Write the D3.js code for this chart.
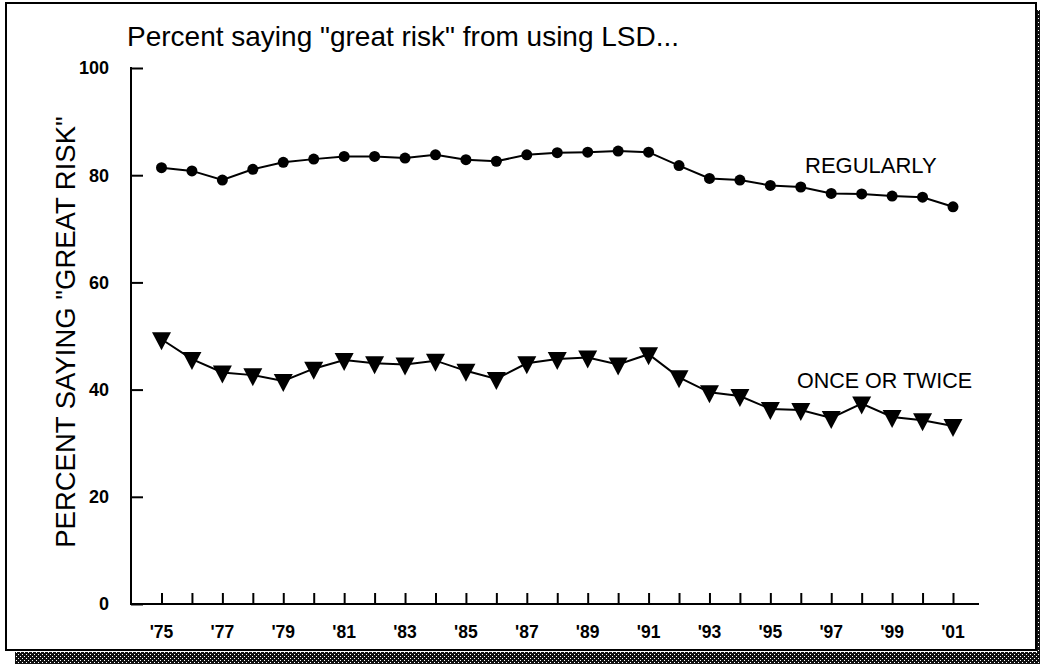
<!DOCTYPE html>
<html>
<head>
<meta charset="utf-8">
<script src="https://cdn.jsdelivr.net/npm/d3@7"></script>
<style>
  html, body { margin: 0; padding: 0; background: #fff; }
  svg { display: block; font-family: "Liberation Sans", Arial, Helvetica, sans-serif; }
</style>
</head>
<body>
<svg id="chart" width="1040" height="664"></svg>
<script>
const years = d3.range(1975, 2002);
const tickLabels = ["'75","'77","'79","'81","'83","'85","'87","'89","'91","'93","'95","'97","'99","'01"];
const regularly = [81.4, 80.8, 79.1, 81.1, 82.4, 83.0, 83.5, 83.5, 83.2, 83.8, 82.9, 82.6, 83.8, 84.2, 84.3, 84.5, 84.3, 81.8, 79.4, 79.1, 78.1, 77.8, 76.6, 76.5, 76.1, 75.9, 74.1];
const onceOrTwice = [49.4, 45.7, 43.2, 42.7, 41.6, 43.9, 45.5, 44.9, 44.7, 45.4, 43.5, 42.0, 44.9, 45.7, 46.0, 44.7, 46.6, 42.3, 39.5, 38.8, 36.4, 36.2, 34.7, 37.4, 34.9, 34.3, 33.2];
const yTicks = [0, 20, 40, 60, 80, 100];
const title = 'Percent saying "great risk" from using LSD...';
const yTitle = 'PERCENT SAYING "GREAT RISK"';
const seriesLabels = ["REGULARLY", "ONCE OR TWICE"];

const svg = d3.select("#chart");

const defs = svg.append("defs");
const pat = defs.append("pattern").attr("id", "dots").attr("patternUnits", "userSpaceOnUse")
  .attr("width", 4).attr("height", 4);
pat.append("rect").attr("width", 4).attr("height", 4).attr("fill", "#111");
pat.append("rect").attr("x", 0).attr("y", 0).attr("width", 1).attr("height", 1).attr("fill", "#fff");
pat.append("rect").attr("x", 2).attr("y", 2).attr("width", 1).attr("height", 1).attr("fill", "#fff");

// shadow
svg.append("rect").attr("x", 15).attr("y", 652).attr("width", 1025).attr("height", 12).attr("fill", "url(#dots)");
svg.append("rect").attr("x", 1037).attr("y", 10).attr("width", 3).attr("height", 654).attr("fill", "url(#dots)");
// frame
svg.append("rect").attr("x", 6).attr("y", 3).attr("width", 1030).attr("height", 647)
  .attr("fill", "#fff").attr("stroke", "#000").attr("stroke-width", 2);

const x = d3.scaleLinear().domain([1975, 2001]).range([161.5, 953]);
const y = d3.scaleLinear().domain([0, 100]).range([604, 68]);
const plotLeft = 131, plotRight = 979;

const g = svg.append("g");

const yAxis = d3.axisRight(y).tickValues(yTicks).tickSize(12).tickFormat("");
const ya = g.append("g").attr("transform", `translate(${plotLeft},0)`).call(yAxis);
ya.select(".domain").remove();
ya.selectAll("line").attr("stroke", "#000").attr("stroke-width", 2);
g.append("line").attr("x1", plotLeft).attr("x2", plotLeft).attr("y1", y(100) - 1).attr("y2", y(0) + 1)
  .attr("stroke", "#000").attr("stroke-width", 2);
g.selectAll(".ylab").data(yTicks).join("text").attr("class", "ylab")
  .attr("x", 109).attr("y", d => y(d)).attr("dy", "0.35em").attr("text-anchor", "end")
  .attr("font-size", 18).attr("font-weight", "bold").text(d => d);

const xAxis = d3.axisTop(x).tickValues(years).tickSize(11).tickFormat("");
const xa = g.append("g").attr("transform", `translate(0,${y(0)})`).call(xAxis);
xa.select(".domain").remove();
xa.selectAll("line").attr("stroke", "#000").attr("stroke-width", 2);
g.append("line").attr("x1", plotLeft - 1).attr("x2", plotRight).attr("y1", y(0)).attr("y2", y(0))
  .attr("stroke", "#000").attr("stroke-width", 2);
const labelYears = years.filter((d, i) => i % 2 === 0);
g.selectAll(".xlab").data(labelYears).join("text").attr("class", "xlab")
  .attr("x", d => x(d)).attr("y", 638).attr("text-anchor", "middle")
  .attr("font-size", 17.5).attr("font-weight", "bold").text((d, i) => tickLabels[i]);

svg.append("text").attr("x", 127).attr("y", 46).attr("font-size", 28).text(title);
svg.append("text").attr("transform", `translate(75,332) rotate(-90)`)
  .attr("text-anchor", "middle").attr("font-size", 27.5).text(yTitle);

const line = d3.line().x((d, i) => x(years[i])).y(d => y(d));
g.append("path").datum(regularly).attr("d", line).attr("fill", "none").attr("stroke", "#000").attr("stroke-width", 2);
g.append("path").datum(onceOrTwice).attr("d", line).attr("fill", "none").attr("stroke", "#000").attr("stroke-width", 2);

g.selectAll(".dot").data(regularly).join("circle").attr("class", "dot")
  .attr("cx", (d, i) => x(years[i])).attr("cy", d => y(d)).attr("r", 5.5).attr("fill", "#000");

const tri = "M-9.5,-7 L9.5,-7 L0,11 Z";
g.selectAll(".tri").data(onceOrTwice).join("path").attr("class", "tri")
  .attr("transform", (d, i) => `translate(${x(years[i])},${y(d)})`).attr("d", tri).attr("fill", "#000");

svg.append("text").attr("x", 805).attr("y", 173).attr("font-size", 22).text(seriesLabels[0]);
svg.append("text").attr("x", 797).attr("y", 388).attr("font-size", 21.5).text(seriesLabels[1]);
</script>
</body>
</html>
